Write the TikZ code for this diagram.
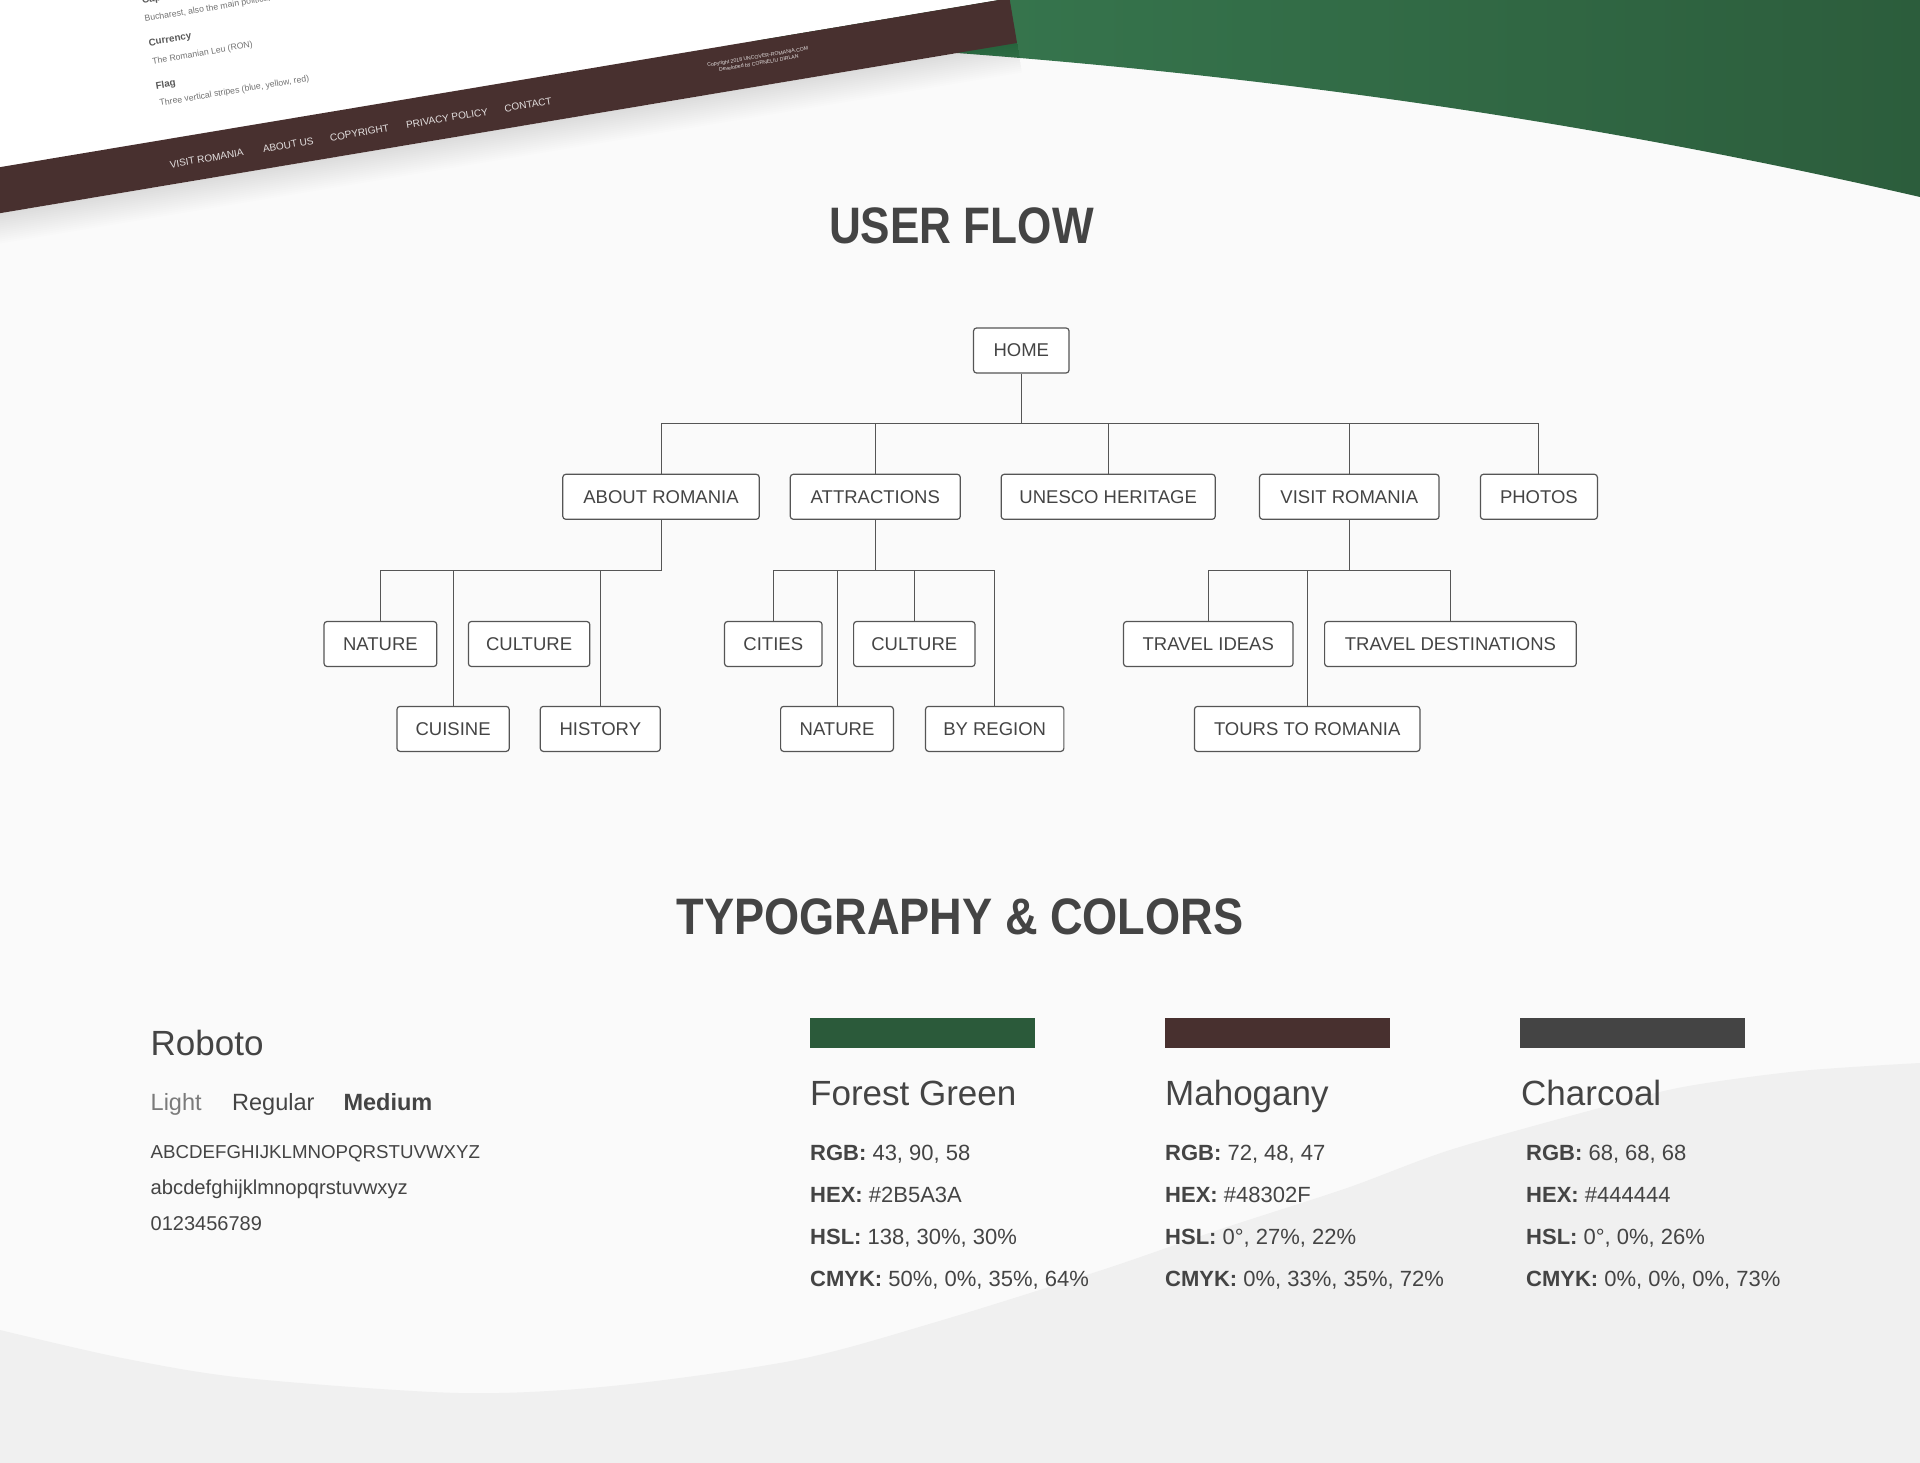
\documentclass[tikz,border=0pt]{standalone}
\usepackage{fontspec}
\setmainfont{Liberation Sans}
\newfontfamily\headfont[FakeStretch=0.86]{Liberation Sans}
\newfontfamily\wideheadfont[FakeStretch=0.88]{Liberation Sans}

\definecolor{pagebg}{HTML}{FAFAFA}
\definecolor{wavegray}{HTML}{F0F0F0}
\definecolor{charcoal}{HTML}{444444}
\definecolor{linegray}{HTML}{555555}
\definecolor{forestgreen}{HTML}{2B5A3A}
\definecolor{mahogany}{HTML}{48302F}
\definecolor{greenlight}{HTML}{397C52}
\definecolor{greendark}{HTML}{2C5D3C}
\definecolor{foottext}{HTML}{E4E0E0}

\tikzset{
  flowbox/.style={draw=linegray, line width=1.2pt, rounded corners=3pt, fill=white,
    text=charcoal, minimum height=45pt, inner sep=0pt, font=\fontsize{18.5}{22}\selectfont},
  flowline/.style={draw=linegray, line width=1pt},
  bigtitle/.style={anchor=base, inner sep=0pt, text=charcoal,
    font=\headfont\bfseries\fontsize{51.3}{60}\selectfont},
  plain/.style={anchor=base west, inner sep=0pt, text=charcoal},
  pagehead/.style={anchor=base west, inner sep=0pt, rotate=9.5, text=black!65,
    font=\bfseries\fontsize{9.8}{12}\selectfont},
  pagebody/.style={anchor=base west, inner sep=0pt, rotate=9.5, text=black!55,
    font=\fontsize{8.7}{10}\selectfont},
  footlink/.style={anchor=base west, inner sep=0pt, rotate=9.5, text=foottext,
    font=\fontsize{10}{12}\selectfont},
  footnote/.style={anchor=base, inner sep=0pt, rotate=9.5, text=foottext,
    font=\fontsize{5.2}{6}\selectfont}
}

\begin{document}
\begin{tikzpicture}[x=1pt,y=1pt,yscale=-1,xscale=1]
\useasboundingbox (0,0) rectangle (1920,1463);
\clip (0,0) rectangle (1920,1463);

%Shape: Background
\fill[pagebg] (0,0) rectangle (1920,1463);
%Shape: Bottom wave
\fill[wavegray] plot[smooth] coordinates {(0,1330) (122,1358) (245,1378) (459,1393) (612,1386)
  (796,1360) (936,1322) (1102,1270) (1224,1228) (1347,1188) (1450,1150) (1592,1110)
  (1683,1087) (1800,1071) (1920,1063)} -- (1920,1463) -- (0,1463) -- cycle;
%Shape: Green wave
\shade[left color=greenlight, right color=greendark] (700,0) -- (700,38)
  .. controls (1100,55) and (1500,100) .. (1920,197) -- (1920,0) -- cycle;

%Shape: Tilted page
\begin{scope}[shift={(1017,43)},rotate=-9.5]
  \fill[white] (-1300,-500) rectangle (0,-45.4);
  \foreach \d in {2,4,...,30}
    \fill[black,opacity=0.008] (-1300,0) rectangle (0,\d);
  \fill[mahogany] (-1300,-45.4) rectangle (0,0);
  % Text Node
  \node[pagehead] (capital) at (-856,-183.2) {Capital};
  \node[pagebody] (capitaltxt) at (-856.6,-164.9) {Bucharest, also the main political};
  \node[pagehead] (currency) at (-856.6,-140.2) {Currency};
  \node[pagebody] (currencytxt) at (-856,-121.9) {The Romanian Leu (RON)};
  \node[pagehead] (flag) at (-856.8,-96.4) {Flag};
  \node[pagebody] (flagtxt) at (-855.7,-79.3) {Three vertical stripes (blue, yellow, red)};
  % Text Node
  \node[footlink] (fvisit) at (-855.7,-16.3) {VISIT ROMANIA};
  \node[footlink] (fabout) at (-761.4,-16.3) {ABOUT US};
  \node[footlink] (fcopy) at (-693.4,-16.3) {COPYRIGHT};
  \node[footlink] (fprivacy) at (-616.1,-16.3) {PRIVACY POLICY};
  \node[footlink] (fcontact) at (-516.5,-16.3) {CONTACT};
  \node[footnote] (credit1) at (-258,-27.4) {Copyright 2018 UNCOVER-ROMANIA.COM};
  \node[footnote] (credit2) at (-258,-20.9) {Developed by CORNELIU DIRLAN};
\end{scope}

% Text Node
\node[bigtitle] (flowtitle) at (961.4,244) {USER FLOW};

%Shape: Flow boxes
\node[flowbox, minimum width=95.5pt] (home) at (1021.3,350.5) {HOME};
\node[flowbox, minimum width=196.4pt] (about) at (661,496.8) {ABOUT ROMANIA};
\node[flowbox, minimum width=170pt] (attract) at (875.3,496.8) {ATTRACTIONS};
\node[flowbox, minimum width=214pt] (unesco) at (1108.2,496.8) {UNESCO HERITAGE};
\node[flowbox, minimum width=179.5pt] (visit) at (1349.3,496.8) {VISIT ROMANIA};
\node[flowbox, minimum width=117pt] (photos) at (1538.9,496.8) {PHOTOS};

\node[flowbox, minimum width=112.7pt] (natureA) at (380.4,644) {NATURE};
\node[flowbox, minimum width=121.4pt] (cultureA) at (529.1,644) {CULTURE};
\node[flowbox, minimum width=112.2pt] (cuisine) at (453.1,728.9) {CUISINE};
\node[flowbox, minimum width=120pt] (history) at (600.3,728.9) {HISTORY};

\node[flowbox, minimum width=97.5pt] (cities) at (773.3,644) {CITIES};
\node[flowbox, minimum width=121.4pt] (cultureB) at (914.3,644) {CULTURE};
\node[flowbox, minimum width=112.8pt] (natureB) at (837,728.9) {NATURE};
\node[flowbox, minimum width=138.3pt] (region) at (994.7,728.9) {BY REGION};

\node[flowbox, minimum width=169.5pt] (ideas) at (1208.3,644) {TRAVEL IDEAS};
\node[flowbox, minimum width=251.6pt] (dest) at (1450.4,644) {TRAVEL DESTINATIONS};
\node[flowbox, minimum width=225.5pt] (tours) at (1307.2,728.9) {TOURS TO ROMANIA};

%Straight Lines: connectors
\coordinate (bushome) at (1021.3,423.3);
\coordinate (busabout) at (661,570.7);
\coordinate (busattract) at (875.3,570.7);
\coordinate (busvisit) at (1349.3,570.7);

\draw[flowline] (home.south) -- (bushome);
\draw[flowline] (about.north) |- (bushome);
\draw[flowline] (attract.north) |- (bushome);
\draw[flowline] (unesco.north) |- (bushome);
\draw[flowline] (visit.north) |- (bushome);
\draw[flowline] (photos.north) |- (bushome);

\draw[flowline] (about.south) -- (busabout);
\draw[flowline] (natureA.north) |- (busabout);
\draw[flowline] (cuisine.north) |- (busabout);
\draw[flowline] (history.north) |- (busabout);

\draw[flowline] (attract.south) -- (busattract);
\draw[flowline] (cities.north) |- (busattract);
\draw[flowline] (natureB.north) |- (busattract);
\draw[flowline] (cultureB.north) |- (busattract);
\draw[flowline] (region.north) |- (busattract);

\draw[flowline] (visit.south) -- (busvisit);
\draw[flowline] (ideas.north) |- (busvisit);
\draw[flowline] (tours.north) |- (busvisit);
\draw[flowline] (dest.north) |- (busvisit);

% Text Node
\node[bigtitle, font=\wideheadfont\bfseries\fontsize{51.3}{60}\selectfont] (typetitle) at (959.9,934) {TYPOGRAPHY \& COLORS};

% Text Node: typography
\node[plain, font=\fontsize{35}{40}\selectfont] (roboto) at (150.5,1055) {Roboto};
\node[plain, text=black!52, font=\fontsize{23.5}{28}\selectfont] (wlight) at (150.5,1110.7) {Light};
\node[plain, font=\fontsize{23.5}{28}\selectfont] (wregular) at (232,1110.7) {Regular};
\node[plain, font=\bfseries\fontsize{23.5}{28}\selectfont] (wmedium) at (343.3,1110.7) {Medium};
\node[plain, font=\fontsize{18.7}{22}\selectfont] (upper) at (150.5,1158.3) {ABCDEFGHIJKLMNOPQRSTUVWXYZ};
\node[plain, font=\fontsize{20.2}{24}\selectfont] (lower) at (150.5,1194) {abcdefghijklmnopqrstuvwxyz};
\node[plain, font=\fontsize{20}{24}\selectfont] (digits) at (150.5,1230) {0123456789};

%Shape: Colour swatches
\fill[forestgreen] (810,1018) rectangle (1035,1047.7);
\fill[mahogany] (1164.8,1018) rectangle (1389.8,1047.7);
\fill[charcoal] (1520,1018) rectangle (1745,1047.7);

% Text Node: forest green
\node[plain, font=\fontsize{35}{40}\selectfont] (greenname) at (810,1105.7) {Forest Green};
\node[plain, font=\fontsize{22}{26}\selectfont] (greenrgb) at (810,1160.7) {\textbf{RGB:} 43, 90, 58};
\node[plain, font=\fontsize{22}{26}\selectfont] (greenhex) at (810,1202.3) {\textbf{HEX:} \#2B5A3A};
\node[plain, font=\fontsize{22}{26}\selectfont] (greenhsl) at (810,1244.3) {\textbf{HSL:} 138, 30\%, 30\%};
\node[plain, font=\fontsize{22}{26}\selectfont] (greencmyk) at (810,1286) {\textbf{CMYK:} 50\%, 0\%, 35\%, 64\%};

% Text Node: mahogany
\node[plain, font=\fontsize{35}{40}\selectfont] (mahoname) at (1165,1105.7) {Mahogany};
\node[plain, font=\fontsize{22}{26}\selectfont] (mahorgb) at (1165,1160.7) {\textbf{RGB:} 72, 48, 47};
\node[plain, font=\fontsize{22}{26}\selectfont] (mahohex) at (1165,1202.3) {\textbf{HEX:} \#48302F};
\node[plain, font=\fontsize{22}{26}\selectfont] (mahohsl) at (1165,1244.3) {\textbf{HSL:} 0°, 27\%, 22\%};
\node[plain, font=\fontsize{22}{26}\selectfont] (mahocmyk) at (1165,1286) {\textbf{CMYK:} 0\%, 33\%, 35\%, 72\%};

% Text Node: charcoal
\node[plain, font=\fontsize{35}{40}\selectfont] (charname) at (1521,1105.7) {Charcoal};
\node[plain, font=\fontsize{22}{26}\selectfont] (charrgb) at (1526,1160.7) {\textbf{RGB:} 68, 68, 68};
\node[plain, font=\fontsize{22}{26}\selectfont] (charhex) at (1526,1202.3) {\textbf{HEX:} \#444444};
\node[plain, font=\fontsize{22}{26}\selectfont] (charhsl) at (1526,1244.3) {\textbf{HSL:} 0°, 0\%, 26\%};
\node[plain, font=\fontsize{22}{26}\selectfont] (charcmyk) at (1526,1286) {\textbf{CMYK:} 0\%, 0\%, 0\%, 73\%};

\end{tikzpicture}
\end{document}
